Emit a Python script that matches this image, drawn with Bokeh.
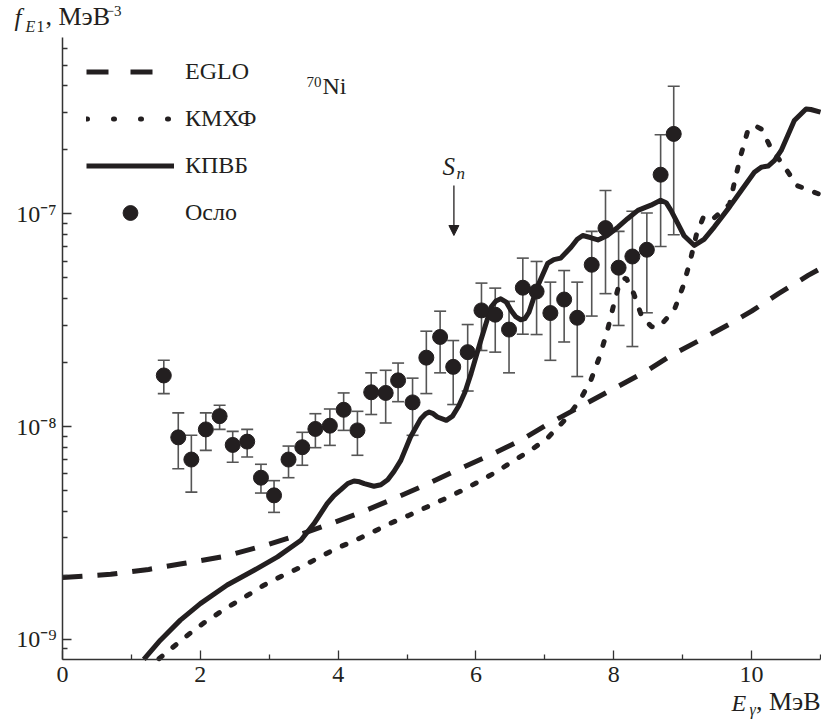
from bokeh.plotting import figure
from bokeh.models import (Range1d, FixedTicker, CustomJSTickFormatter, ColumnDataSource,
                          Whisker, TeeHead, Label, Arrow, NormalHead, Legend, LegendItem)
from bokeh.embed import file_html
from bokeh.resources import INLINE
import math

# ---------------- data ----------------
eglo_e = [0.0, 0.7, 1.25, 1.75, 2.35, 2.9, 3.45, 3.9, 4.35, 4.75, 5.25, 5.8, 6.2, 6.65,
          7.05, 7.57, 8.07, 8.48, 8.86, 9.27, 9.69, 10.0, 10.39, 10.82, 11.0]
eglo_f = [1.95e-9, 2.02e-9, 2.13e-9, 2.27e-9, 2.45e-9, 2.74e-9, 3.11e-9, 3.50e-9, 3.97e-9,
          4.50e-9, 5.29e-9, 6.41e-9, 7.33e-9, 8.62e-9, 1.03e-8, 1.27e-8, 1.55e-8, 1.83e-8,
          2.19e-8, 2.57e-8, 3.05e-8, 3.49e-8, 4.22e-8, 5.14e-8, 5.54e-8]

kmxf_e = [1.40, 1.62, 1.84, 2.06, 2.30, 2.44, 2.70, 2.93, 3.18, 3.44, 3.70, 3.97, 4.23,
          4.50, 4.75, 5.03, 5.29, 5.55, 5.80, 6.05, 6.29, 6.54, 6.79, 7.03, 7.32, 7.52, 7.67,
          7.80, 7.91, 8.00, 8.09, 8.18, 8.29, 8.41, 8.55, 8.66, 8.88, 9.01, 9.11, 9.20, 9.31,
          9.45, 9.68, 9.76, 9.85, 9.95, 10.05, 10.15, 10.28, 10.48, 10.66, 10.98]
kmxf_f = [8.1e-10, 9.27e-10, 1.06e-9, 1.20e-9, 1.35e-9, 1.44e-9, 1.62e-9, 1.80e-9,
          1.98e-9, 2.17e-9, 2.40e-9, 2.67e-9, 2.90e-9, 3.19e-9, 3.50e-9, 3.83e-9, 4.19e-9,
          4.58e-9, 5.01e-9, 5.53e-9, 6.11e-9, 6.89e-9, 7.73e-9, 8.78e-9, 1.10e-8, 1.35e-8,
          1.66e-8, 2.16e-8, 2.85e-8, 3.75e-8, 4.83e-8, 5.0e-8, 4.22e-8, 3.27e-8, 2.95e-8,
          2.94e-8, 3.55e-8, 4.61e-8, 6.04e-8, 8.01e-8, 9.84e-8, 9.55e-8, 1.11e-7, 1.45e-7,
          1.92e-7, 2.50e-7, 2.60e-7, 2.50e-7, 2.04e-7, 1.66e-7, 1.36e-7, 1.24e-7]

kpvb_e = [1.18, 1.42, 1.71, 2.00, 2.39, 2.78, 3.12, 3.46, 3.65, 3.84, 3.94, 4.04, 4.14, 4.23,
          4.31, 4.38, 4.52, 4.62, 4.72, 4.81, 4.91, 5.05, 5.20, 5.27, 5.32, 5.38, 5.44, 5.57,
          5.66, 5.75, 5.84, 5.93, 6.07, 6.22, 6.29, 6.36, 6.44, 6.51, 6.58, 6.65, 6.71, 6.77,
          6.89, 7.04, 7.13, 7.23, 7.38, 7.47, 7.55, 7.66, 7.77, 7.90, 8.06, 8.20, 8.35, 8.54,
          8.68, 8.76, 8.83, 8.93, 9.02, 9.17, 9.31, 9.46, 9.68, 9.85, 10.04, 10.14, 10.24,
          10.33, 10.43, 10.62, 10.79, 10.86, 11.0]
kpvb_f = [8.05e-10, 9.9e-10, 1.23e-9, 1.47e-9, 1.80e-9, 2.11e-9, 2.44e-9, 2.92e-9, 3.50e-9,
          4.34e-9, 4.74e-9, 5.05e-9, 5.40e-9, 5.55e-9, 5.50e-9, 5.39e-9, 5.24e-9, 5.33e-9,
          5.62e-9, 6.15e-9, 6.94e-9, 8.93e-9, 1.09e-8, 1.15e-8, 1.17e-8, 1.15e-8, 1.11e-8,
          1.07e-8, 1.12e-8, 1.25e-8, 1.45e-8, 1.78e-8, 2.54e-8, 3.65e-8, 3.90e-8, 3.99e-8,
          3.85e-8, 3.52e-8, 3.28e-8, 3.18e-8, 3.22e-8, 3.45e-8, 4.53e-8, 5.85e-8, 6.10e-8,
          6.20e-8, 6.98e-8, 7.60e-8, 7.92e-8, 7.75e-8, 7.55e-8, 7.90e-8, 8.67e-8, 9.50e-8,
          1.04e-7, 1.10e-7, 1.16e-7, 1.13e-7, 1.04e-7, 9.0e-8, 7.90e-8, 7.11e-8, 7.60e-8,
          8.7e-8, 1.08e-7, 1.29e-7, 1.57e-7, 1.66e-7, 1.68e-7, 1.78e-7, 1.99e-7, 2.75e-7,
          3.12e-7, 3.10e-7, 3.01e-7]

oslo_e = [1.47, 1.68, 1.87, 2.08, 2.28, 2.47, 2.68, 2.88, 3.07, 3.28, 3.48, 3.67, 3.88, 4.08,
          4.28, 4.48, 4.69, 4.87, 5.08, 5.28, 5.48, 5.67, 5.88, 6.08, 6.28, 6.48, 6.68, 6.88,
          7.08, 7.28, 7.47, 7.68, 7.88, 8.07, 8.27, 8.48, 8.68, 8.87]
oslo_f = [1.74e-8, 8.9e-9, 7.0e-9, 9.7e-9, 1.12e-8, 8.2e-9, 8.5e-9, 5.75e-9, 4.75e-9, 7.0e-9,
          8.0e-9, 9.75e-9, 1.01e-8, 1.20e-8, 9.6e-9, 1.45e-8, 1.44e-8, 1.65e-8, 1.30e-8,
          2.11e-8, 2.64e-8, 1.91e-8, 2.24e-8, 3.52e-8, 3.36e-8, 2.86e-8, 4.50e-8, 4.32e-8,
          3.42e-8, 3.96e-8, 3.25e-8, 5.77e-8, 8.58e-8, 5.59e-8, 6.31e-8, 6.79e-8, 1.53e-7, 2.38e-7]
oslo_hi = [2.05e-8, 1.16e-8, 9.1e-9, 1.16e-8, 1.26e-8, 9.5e-9, 9.7e-9, 6.65e-9, 5.57e-9, 8.1e-9,
           9.4e-9, 1.15e-8, 1.21e-8, 1.44e-8, 1.18e-8, 1.79e-8, 1.84e-8, 1.99e-8, 1.69e-8,
           2.81e-8, 3.49e-8, 2.54e-8, 3.02e-8, 4.73e-8, 4.48e-8, 3.88e-8, 6.2e-8, 5.98e-8,
           4.78e-8, 5.42e-8, 4.78e-8, 8.28e-8, 1.29e-7, 8.28e-8, 1.03e-7, 1.01e-7, 2.36e-7, 3.99e-7]
oslo_lo = [1.43e-8, 6.34e-9, 4.92e-9, 7.73e-9, 9.7e-9, 6.8e-9, 7.2e-9, 4.87e-9, 3.95e-9, 5.75e-9,
           6.58e-9, 7.96e-9, 8.16e-9, 9.6e-9, 7.33e-9, 1.14e-8, 1.04e-8, 1.31e-8, 9.1e-9,
           1.43e-8, 1.79e-8, 1.27e-8, 1.47e-8, 2.28e-8, 2.24e-8, 1.79e-8, 2.72e-8, 2.71e-8,
           2.05e-8, 2.5e-8, 1.72e-8, 3.31e-8, 4.22e-8, 2.99e-8, 2.38e-8, 3.43e-8, 7.03e-8, 7.98e-8]

x_min, x_max = 0.0, 11.0
y_min, y_max = 8.03e-10, 6.76e-7
x_major = [0, 2, 4, 6, 8, 10]
x_minor = [1, 3, 5, 7, 9, 11]
y_major = [1e-9, 1e-8, 1e-7]
y_minor = [k * 10.0 ** d for d in (-10, -9, -8, -7) for k in range(2, 10)
           if y_min <= k * 10.0 ** d <= y_max]
sn_energy = 5.68

# ---------------- layout ----------------
# The plotting frame covers the whole canvas; the axes are pinned (fixed_location)
# so that titles written outside the axes box are not clipped.
W, H = 821, 723
FL, FT, FW, FH = 62, 37, 758, 622        # where the axes box sits on the canvas
LOG_LO, LOG_HI = math.log10(y_min), math.log10(y_max)

def px(sx):
    return x_min + (sx - FL) / FW * (x_max - x_min)

def py(sy):
    return 10 ** (LOG_HI - (sy - FT) / FH * (LOG_HI - LOG_LO))

INK = "#231f20"
AX = "#333333"
SERIF = "Liberation Serif"

p = figure(width=W, height=H, x_range=Range1d(px(0), px(W)),
           y_range=Range1d(py(H), py(0)), y_axis_type="log",
           output_backend="svg", toolbar_location=None,
           min_border=0)
p.xgrid.grid_line_color = None
p.ygrid.grid_line_color = None
p.outline_line_color = None
p.background_fill_color = "white"
p.border_fill_color = "white"

for ax in (p.xaxis[0], p.yaxis[0]):
    ax.axis_line_color = AX
    ax.axis_line_width = 1.5
    ax.major_tick_line_color = AX
    ax.minor_tick_line_color = AX
    ax.major_tick_line_width = 1.3
    ax.minor_tick_line_width = 1.3
    ax.major_tick_in = 9
    ax.major_tick_out = 0
    ax.minor_tick_in = 5
    ax.minor_tick_out = 0
    ax.major_label_text_font = SERIF
    ax.major_label_text_font_size = "24px"
    ax.major_label_text_color = INK

xa, ya = p.xaxis[0], p.yaxis[0]
xa.ticker = FixedTicker(ticks=x_major, minor_ticks=x_minor)
xa.major_label_standoff = 7
xa.fixed_location = y_min
xa.bounds = (x_min, x_max)
ya.ticker = FixedTicker(ticks=y_major, minor_ticks=y_minor)
ya.major_label_standoff = 6
ya.fixed_location = x_min
ya.bounds = (y_min, y_max)
ya.formatter = CustomJSTickFormatter(code="""
const sup = {"-": "⁻", "0": "⁰", "1": "¹", "2": "²", "3": "³", "4": "⁴",
             "5": "⁵", "6": "⁶", "7": "⁷", "8": "⁸", "9": "⁹"};
const e = Math.round(Math.log10(tick));
return "10" + String(e).split("").map(c => sup[c]).join("");
""")

# ---------------- curves ----------------
p.line(eglo_e, eglo_f, line_color=INK, line_width=5, line_dash="20 15")
p.line(kmxf_e, kmxf_f, line_color=INK, line_width=5, line_dash="4 14", line_cap="round")
p.line(kpvb_e, kpvb_f, line_color=INK, line_width=5, line_join="round")

src = ColumnDataSource(dict(e=oslo_e, f=oslo_f, hi=oslo_hi, lo=oslo_lo))
EB = "#555555"
wh = Whisker(base="e", upper="hi", lower="lo", source=src, dimension="height",
             line_color=EB, line_width=1.6,
             upper_head=TeeHead(size=12, line_color=EB, line_width=1.6),
             lower_head=TeeHead(size=12, line_color=EB, line_width=1.6))
p.add_layout(wh)
p.scatter("e", "f", source=src, size=15, fill_color=INK, line_color=INK)

# ---------------- legend (proxy renderers kept outside the visible range) ----------------
off_x = [-20.0, -19.0]
off_y = [1e-14, 1e-14]
l_eglo = p.line(off_x, off_y, line_color=INK, line_width=5, line_dash="22 22")
l_kmxf = p.line(off_x, off_y, line_color=INK, line_width=5, line_dash="1 26", line_cap="round")
l_kpvb = p.line(off_x, off_y, line_color=INK, line_width=5)
l_oslo = p.scatter(off_x[:1], off_y[:1], fill_color=INK, line_color=INK)
legend = Legend(items=[LegendItem(label="EGLO", renderers=[l_eglo]),
                       LegendItem(label="КМХФ", renderers=[l_kmxf]),
                       LegendItem(label="КПВБ", renderers=[l_kpvb]),
                       LegendItem(label="Осло", renderers=[l_oslo])],
                location=(86, 492.5), glyph_width=88, glyph_height=37, spacing=10,
                label_standoff=11, padding=0, margin=0,
                border_line_alpha=0, background_fill_alpha=0,
                label_text_font=SERIF, label_text_font_size="24px", label_text_color=INK)
p.add_layout(legend)

# ---------------- texts ----------------
def lab(sx, base, text, size, italic=False, align="left"):
    # base = wanted baseline on the canvas; the label is centred on the cap middle
    p.add_layout(Label(x=px(sx), y=py(base - 0.33 * size), text=text, text_font=SERIF,
                       text_font_size=f"{size}px", text_color=INK,
                       text_font_style="italic" if italic else "normal",
                       text_align=align, text_baseline="middle"))

# y title
lab(14, 25, "f", 25, italic=True)
lab(25, 31, "E", 16, italic=True)
lab(36, 31, "1", 16)
lab(45, 25, ", МэВ", 26)
lab(105, 15, "−3", 15)

# x title
lab(731, 710, "E", 24, italic=True)
lab(749, 714, "γ", 16, italic=True)
lab(820, 710, ", МэВ", 26, align="right")

# nucleus
lab(306, 86, "70", 15)
lab(322, 93, "Ni", 24)

# S_n arrow
lab(442, 174, "S", 25, italic=True)
lab(456, 179, "n", 17, italic=True)
p.add_layout(Arrow(end=NormalHead(size=10, fill_color=INK, line_color=INK, line_width=1),
                   x_start=sn_energy, y_start=py(185), x_end=sn_energy, y_end=py(235),
                   line_color=INK, line_width=1.3))

open("out.html", "w").write(file_html(p, INLINE))
